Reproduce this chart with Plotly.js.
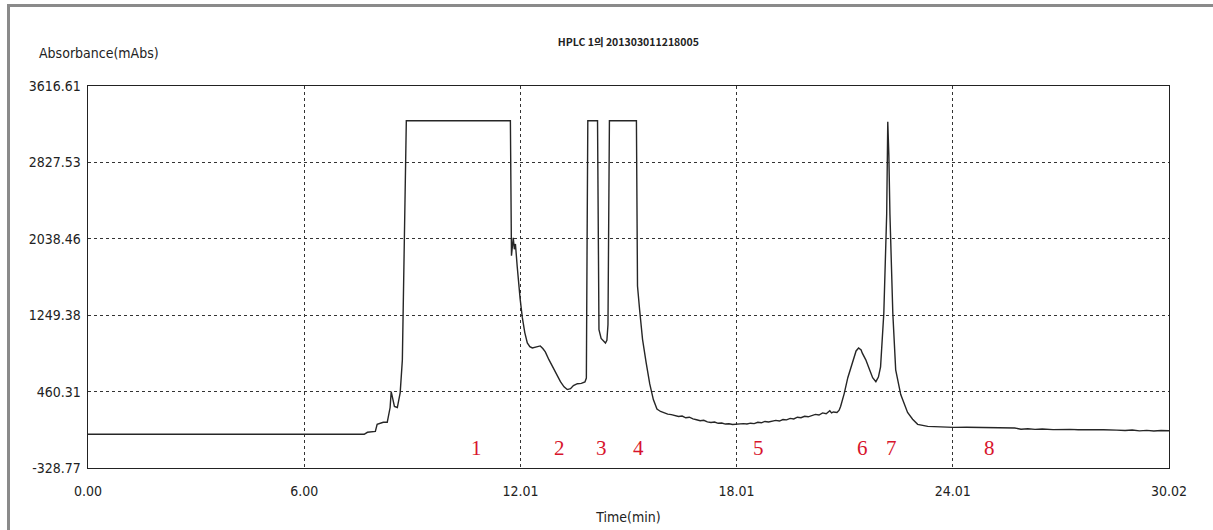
<!DOCTYPE html>
<html>
<head>
<meta charset="utf-8">
<script src="https://cdn.plot.ly/plotly-3.0.1.min.js"></script>
<style>
  html, body { margin: 0; padding: 0; background: #fff; overflow: hidden; width: 1213px; height: 530px; }
  #frame { position: absolute; left: 7px; top: 4px; width: 1206px; height: 526px;
           border-left: 3px solid #8a8a8a; border-top: 3px solid #8a8a8a; box-sizing: border-box; }
  #chart { position: absolute; left: 0; top: 0; width: 1213px; height: 530px; }
</style>
</head>
<body>
<div id="frame"></div>
<div id="chart"></div>
<script>
// Retention time (min)
const timeMin = [
  0.00, 2.00, 4.00, 6.00, 7.67, 7.76, 7.98, 8.03, 8.20, 8.31, 8.39, 8.42, 8.51, 8.59, 8.67, 8.73, 8.76, 8.81, 8.84,
  9.50, 10.50, 11.73, 11.76, 11.81, 11.84, 11.87, 11.92, 11.95, 12.00, 12.06, 12.13, 12.20, 12.27, 12.34, 12.45,
  12.56, 12.63, 12.70, 12.80, 12.90, 13.00, 13.12, 13.22, 13.31, 13.40, 13.48, 13.59, 13.70, 13.80, 13.84, 13.86,
  13.88, 14.15, 14.17, 14.19, 14.25, 14.32, 14.37, 14.41, 14.44, 14.46, 14.48, 15.23, 15.26, 15.32, 15.40, 15.50,
  15.60, 15.70, 15.80, 15.90, 16.00, 16.10, 16.20, 16.30, 16.40, 16.50, 16.60, 16.70, 16.80, 16.90, 17.00, 17.10,
  17.20, 17.30, 17.40, 17.50, 17.60, 17.70, 17.80, 17.90, 18.00, 18.10, 18.20, 18.30, 18.40, 18.50, 18.60, 18.70,
  18.80, 18.90, 19.00, 19.10, 19.20, 19.30, 19.40, 19.50, 19.60, 19.70, 19.80, 19.90, 20.00, 20.10, 20.20, 20.30,
  20.40, 20.50, 20.60, 20.65, 20.70, 20.80, 20.86, 20.90, 21.00, 21.10, 21.26, 21.33, 21.40, 21.47, 21.50, 21.60,
  21.70, 21.79, 21.88, 21.95, 22.01, 22.10, 22.18, 22.21, 22.24, 22.27, 22.35, 22.43, 22.57, 22.76, 22.90, 23.04,
  23.32, 23.70, 24.04, 24.40, 24.80, 25.20, 25.50, 25.74, 25.91, 26.10, 26.30, 26.50, 26.80, 27.00, 27.27, 27.50,
  27.80, 28.00, 28.20, 28.57, 28.80, 29.00, 29.20, 29.40, 29.60, 29.80, 30.02
];
// Absorbance (mAbs)
const absorbance = [
  20, 20, 20, 20, 20, 40, 50, 122, 143, 143, 296, 460, 307, 296, 450, 788, 1608, 2700, 3258,
  3258, 3258, 3258, 1864, 2049, 1930, 1985, 1750, 1608, 1420, 1229, 1070, 962, 925, 911, 925,
  932, 905, 870, 790, 716, 640, 563, 510, 481, 490, 522, 542, 545, 560, 600, 2000,
  3258, 3258, 2000, 1100, 1010, 975, 962, 990, 1150, 2200, 3258, 3258, 1550, 1300, 1000, 760,
  540, 378, 280, 255, 238, 228, 222, 212, 204, 208, 190, 196, 178, 170, 160, 164,
  148, 142, 146, 133, 136, 125, 128, 120, 124, 122, 130, 126, 134, 130, 143, 138,
  152, 147, 158, 163, 156, 172, 168, 184, 178, 196, 190, 205, 200, 215, 225, 218,
  240, 232, 262, 240, 250, 245, 268, 306, 440, 604, 788, 880, 911, 890, 860, 788,
  690, 604, 563, 610, 716, 1270, 2295, 3248, 2900, 2295, 1270, 685, 430, 245, 175, 122,
  101, 94, 91, 92, 88, 90, 86, 84, 72, 76, 70, 74, 68, 72, 70, 66,
  68, 64, 66, 62, 58, 63, 55, 60, 54, 59, 56
];
const peakLabels = ["1", "2", "3", "4", "5", "6", "7", "8"];
const peakLabelTime = [10.78, 13.09, 14.26, 15.29, 18.62, 21.51, 22.32, 25.04];
const xTickVals = [0, 6.004, 12.008, 18.012, 24.016, 30.02];
const xTickText = ["0.00", "6.00", "12.01", "18.01", "24.01", "30.02"];
const yTickVals = [-328.77, 460.31, 1249.38, 2038.46, 2827.53, 3616.61];
const yTickText = ["-328.77", "460.31", "1249.38", "2038.46", "2827.53", "3616.61"];

const tickFont = { family: "DejaVu Sans Condensed, Liberation Sans Narrow, sans-serif", size: 14, color: "#222" };

const trace = {
  x: timeMin, y: absorbance, type: "scatter", mode: "lines",
  line: { color: "#262626", width: 1.4 }, hoverinfo: "x+y"
};

const annotations = peakLabels.map((t, i) => ({
  x: peakLabelTime[i], y: -125, xref: "x", yref: "y", text: t, showarrow: false,
  font: { family: "Liberation Serif, Times New Roman, serif", size: 21, color: "#d8142c" }
}));
annotations.push({
  x: -0.047, y: 1.087, xref: "paper", yref: "paper", xanchor: "left", yanchor: "middle",
  text: "Absorbance(mAbs)", showarrow: false, font: tickFont
});

const layout = {
  width: 1213, height: 530,
  margin: { l: 88, r: 44, t: 86, b: 62 },
  paper_bgcolor: "rgba(0,0,0,0)", plot_bgcolor: "#fff",
  showlegend: false,
  title: { text: "HPLC 1의 201303011218005", x: 0.518, xanchor: "center", y: 0.921, yanchor: "middle",
           font: { family: "Noto Sans CJK KR, sans-serif", size: 10.5, color: "#222", weight: "bold" } },
  xaxis: {
    range: [0, 30.02], tickmode: "array", tickvals: xTickVals, ticktext: xTickText,
    showgrid: true, gridcolor: "#333", griddash: "dot", gridwidth: 1.3,
    showline: true, linecolor: "#222", linewidth: 1.3, mirror: true, zeroline: false,
    ticks: "", tickfont: tickFont, ticklabelstandoff: 10,
    title: { text: "Time(min)", font: tickFont, standoff: 14 }
  },
  yaxis: {
    range: [-328.77, 3616.61], tickmode: "array", tickvals: yTickVals, ticktext: yTickText,
    showgrid: true, gridcolor: "#333", griddash: "dot", gridwidth: 1.3,
    showline: true, linecolor: "#222", linewidth: 1.3, mirror: true, zeroline: false,
    ticks: "", tickfont: tickFont, ticklabelstandoff: 3
  },
  annotations: annotations
};

Plotly.newPlot("chart", [trace], layout, { staticPlot: true });
</script>
</body>
</html>
